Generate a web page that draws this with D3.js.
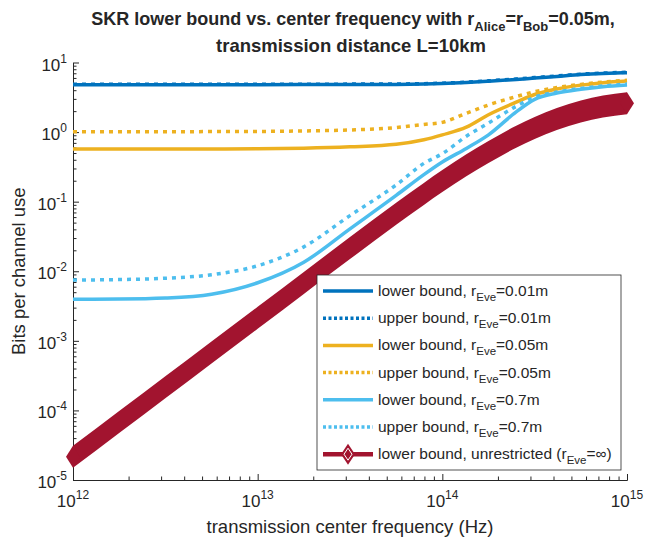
<!DOCTYPE html>
<html>
<head>
<meta charset="utf-8">
<script src="https://cdn.jsdelivr.net/npm/d3@7"></script>
<style>
  html, body { margin: 0; padding: 0; background: #fff; }
  svg text { font-family: "Liberation Sans", Arial, Helvetica, sans-serif; fill: #262626; }
</style>
</head>
<body>
<svg id="chart" width="668" height="540"></svg>
<script>
// ---- data ----
const freqHz = [1e12, 1.778e12, 3.162e12, 5.623e12, 1e13, 1.778e13, 3.162e13, 5.623e13, 7.943e13,
                1e14, 1.349e14, 1.778e14, 2.512e14, 3.162e14, 4.169e14, 5.623e14, 7.413e14, 1e15];

const lowerR001 = [4.80, 4.80, 4.80, 4.80, 4.80, 4.81, 4.82, 4.84, 4.90, 4.98, 5.15, 5.37, 5.71, 5.98, 6.31, 6.70, 6.95, 7.13];
const upperR001 = [4.87, 4.87, 4.87, 4.87, 4.87, 4.88, 4.89, 4.91, 4.97, 5.05, 5.23, 5.45, 5.80, 6.07, 6.40, 6.80, 7.05, 7.24];
const lowerR005 = [0.571, 0.571, 0.571, 0.573, 0.575, 0.586, 0.614, 0.668, 0.776, 0.912, 1.175, 1.778, 2.692, 3.467, 4.169, 4.732, 5.129, 5.408];
const upperR005 = [1.012, 1.012, 1.014, 1.016, 1.021, 1.038, 1.072, 1.161, 1.288, 1.380, 1.862, 2.455, 3.236, 3.802, 4.365, 4.842, 5.224, 5.559];
const lowerR07  = [0.00395, 0.00398, 0.00412, 0.00468, 0.00684, 0.0135, 0.0407, 0.123, 0.245, 0.372, 0.582, 0.912, 1.950, 2.951, 3.631, 4.121, 4.487, 4.753];
const upperR07  = [0.00748, 0.00759, 0.00794, 0.00891, 0.0120, 0.0224, 0.0631, 0.174, 0.355, 0.490, 0.871, 1.349, 2.344, 3.162, 3.758, 4.246, 4.592, 4.898];
const lowerUnrestricted = [2.15e-5, 6.8e-5, 2.15e-4, 6.8e-4, 2.15e-3, 6.8e-3, 0.0215, 0.0671, 0.1294, 0.1977, 0.335, 0.519, 0.859, 1.146, 1.545, 1.977, 2.328, 2.60];

const xMajorTicks = [1e12, 1e13, 1e14, 1e15];
const xTickExp = ["12", "13", "14", "15"];
const yMajorTicks = [1e-5, 1e-4, 1e-3, 1e-2, 1e-1, 1e0, 1e1];
const yTickExp = ["-5", "-4", "-3", "-2", "-1", "0", "1"];

const legendLabels = [
  ["lower bound, r", "Eve", "=0.01m"],
  ["upper bound, r", "Eve", "=0.01m"],
  ["lower bound, r", "Eve", "=0.05m"],
  ["upper bound, r", "Eve", "=0.05m"],
  ["lower bound, r", "Eve", "=0.7m"],
  ["upper bound, r", "Eve", "=0.7m"],
  ["lower bound, unrestricted (r", "Eve", "=\u221E)"]
];

(function () {
// ---- styles ----
const C_BLUE = "#0072BD", C_ORANGE = "#EDB120", C_LBLUE = "#4DBEEE", C_RED = "#A2142F";
const AXC = "#262626";

const series = [
  { v: lowerR001, color: C_BLUE,   dotted: false },
  { v: upperR001, color: C_BLUE,   dotted: true },
  { v: lowerR005, color: C_ORANGE, dotted: false },
  { v: upperR005, color: C_ORANGE, dotted: true },
  { v: lowerR07,  color: C_LBLUE,  dotted: false },
  { v: upperR07,  color: C_LBLUE,  dotted: true },
];

const svg = d3.select("#chart");
const pL = 73, pR = 627, pT = 62.5, pB = 480;

const x = d3.scaleLog().domain([1e12, 1e15]).range([pL, pR]);
const y = d3.scaleLog().domain([1e-5, 1e1]).range([pB, pT]);

// ---- axes ----
const minorX = [];
for (let e = 12; e < 15; e++) for (let m = 2; m <= 9; m++) minorX.push(m * Math.pow(10, e));
const minorY = [];
for (let e = -5; e < 1; e++) for (let m = 2; m <= 9; m++) minorY.push(m * Math.pow(10, e));

function styleAxis(g) {
  g.selectAll("path").attr("stroke", AXC).attr("stroke-width", 1);
  g.selectAll("line").attr("stroke", AXC).attr("stroke-width", 1);
  g.selectAll("text").remove();
}

svg.append("g").attr("transform", `translate(0,${pB})`)
  .call(d3.axisBottom(x).tickValues(minorX).tickSizeInner(-3.5).tickSizeOuter(0).tickFormat(""))
  .call(styleAxis);
svg.append("g").attr("transform", `translate(0,${pB})`)
  .call(d3.axisBottom(x).tickValues(xMajorTicks).tickSizeInner(-6).tickSizeOuter(0).tickFormat(""))
  .call(styleAxis);
svg.append("g").attr("transform", `translate(${pL},0)`)
  .call(d3.axisLeft(y).tickValues(minorY).tickSizeInner(-3.5).tickSizeOuter(0).tickFormat(""))
  .call(styleAxis);
svg.append("g").attr("transform", `translate(${pL},0)`)
  .call(d3.axisLeft(y).tickValues(yMajorTicks).tickSizeInner(-6).tickSizeOuter(0).tickFormat(""))
  .call(styleAxis);

// tick labels with superscripts
xMajorTicks.forEach((t, i) => {
  const tx = svg.append("text").attr("x", x(t)).attr("y", 507)
    .attr("text-anchor", "middle").attr("font-size", 17);
  tx.append("tspan").text("10");
  tx.append("tspan").attr("dy", -8).attr("font-size", 12).text(xTickExp[i]);
});
yMajorTicks.forEach((t, i) => {
  const tx = svg.append("text").attr("x", 67).attr("y", y(t) + 8)
    .attr("text-anchor", "end").attr("font-size", 17);
  tx.append("tspan").text("10");
  tx.append("tspan").attr("dy", -8).attr("font-size", 12).text(yTickExp[i]);
});

// axis labels
svg.append("text").attr("x", (pL + pR) / 2).attr("y", 533)
  .attr("text-anchor", "middle").attr("font-size", 18.5)
  .text("transmission center frequency (Hz)");
svg.append("text").attr("transform", `translate(25,${(pT + pB) / 2}) rotate(-90)`)
  .attr("text-anchor", "middle").attr("font-size", 18.5)
  .text("Bits per channel use");

// title
const t1 = svg.append("text").attr("x", 353).attr("y", 25).attr("text-anchor", "middle")
  .attr("font-size", 18).attr("font-weight", "bold");
t1.append("tspan").text("SKR lower bound vs. center frequency with r");
t1.append("tspan").attr("dy", 6).attr("font-size", 13).text("Alice");
t1.append("tspan").attr("dy", -6).text("=r");
t1.append("tspan").attr("dy", 6).attr("font-size", 13).text("Bob");
t1.append("tspan").attr("dy", -6).text("=0.05m,");
svg.append("text").attr("x", 351).attr("y", 52).attr("text-anchor", "middle")
  .attr("font-size", 18.5).attr("font-weight", "bold")
  .text("transmission distance L=10km");

// ---- lines ----
const line = d3.line().x((d, i) => x(freqHz[i])).y(d => y(d)).curve(d3.curveMonotoneX);
series.forEach(s => {
  svg.append("path").attr("d", line(s.v))
    .attr("fill", "none").attr("stroke", s.color).attr("stroke-width", 3.5)
    .attr("stroke-dasharray", s.dotted ? "4,5" : null)
    .attr("stroke-linecap", "butt").attr("stroke-linejoin", "round");
});

// unrestricted lower bound: dense diamond markers form a thick band
const MA = 7, MB = 11;
function diamond(cx, cy, a, b) {
  return `M${cx},${cy - b}L${cx + a},${cy}L${cx},${cy + b}L${cx - a},${cy}Z`;
}
const band = d3.area().x((d, i) => x(freqHz[i]))
  .y0(d => y(d) + MB).y1(d => y(d) - MB).curve(d3.curveMonotoneX);
svg.append("path").attr("d", band(lowerUnrestricted)).attr("fill", C_RED);
[0, lowerUnrestricted.length - 1].forEach(i => {
  svg.append("path").attr("d", diamond(x(freqHz[i]), y(lowerUnrestricted[i]), MA, MB)).attr("fill", C_RED);
});

// ---- legend ----
const lg = svg.append("g");
const lx = 317, ly = 275, lw = 304, lh = 195;
lg.append("rect").attr("x", lx).attr("y", ly).attr("width", lw).attr("height", lh)
  .attr("fill", "#fff").attr("stroke", AXC).attr("stroke-width", 0.8);
const rowH = 27.2, row0 = 291;
legendLabels.forEach((lab, i) => {
  const ry = row0 + i * rowH;
  if (i < 6) {
    const s = series[i];
    lg.append("line").attr("x1", 323).attr("x2", 373).attr("y1", ry).attr("y2", ry)
      .attr("stroke", s.color).attr("stroke-width", 3.5)
      .attr("stroke-dasharray", s.dotted ? "3,2.5" : null);
  } else {
    lg.append("line").attr("x1", 323).attr("x2", 373).attr("y1", ry).attr("y2", ry)
      .attr("stroke", C_RED).attr("stroke-width", 4.5);
    lg.append("path").attr("d", diamond(348, ry, MA, 10.5)).attr("fill", C_RED);
    lg.append("path").attr("d", diamond(348, ry, 4, 6)).attr("fill", "none")
      .attr("stroke", "#fff").attr("stroke-width", 1);
  }
  const tx = lg.append("text").attr("x", 378).attr("y", ry + 5).attr("font-size", 15.5);
  tx.append("tspan").text(lab[0]);
  tx.append("tspan").attr("dy", 5).attr("font-size", 11.5).text(lab[1]);
  tx.append("tspan").attr("dy", -5).text(lab[2]);
});
})();
</script>
</body>
</html>
